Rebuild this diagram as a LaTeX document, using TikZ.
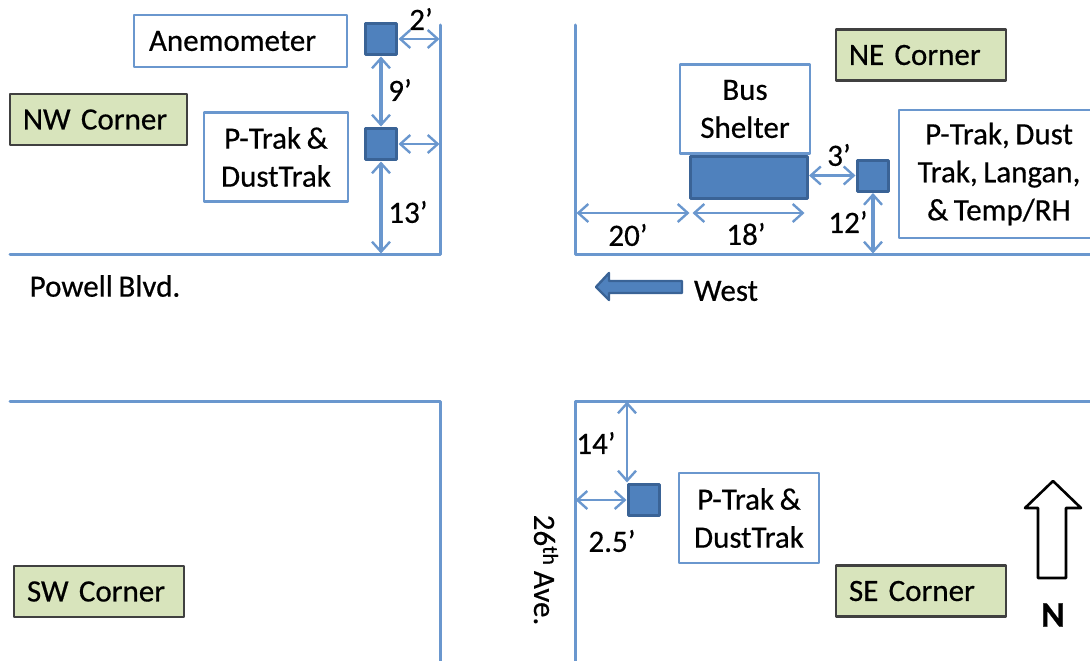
\documentclass[tikz,border=0pt]{standalone}
\usepackage{fontspec}
\setmainfont{Carlito}[FakeBold=0.5,WordSpace=0.8]
\usetikzlibrary{arrows.meta}
\definecolor{roadblue}{HTML}{6A97CE}
\definecolor{boxblue}{HTML}{6A97CE}
\definecolor{sensorblue}{HTML}{4F81BD}
\definecolor{sensoredge}{HTML}{3A6396}
\definecolor{cornergreen}{HTML}{D8E4BC}
\definecolor{corneredge}{HTML}{404040}
\tikzset{
  road/.style={draw=roadblue,line width=3pt},
  labelbox/.style={draw=boxblue,fill=white,line width=2.8pt,align=center,inner sep=0pt,font=\fontsize{31}{38}\selectfont},
  cornerbox/.style={draw=corneredge,fill=cornergreen,line width=2.8pt,align=left,minimum height=51pt,inner xsep=13pt,inner ysep=0pt,text width=144pt,font=\fontsize{31}{37}\selectfont},
  sensor/.style={draw=sensoredge,fill=sensorblue,line width=3pt,minimum size=31pt,inner sep=0pt},
  dimline/.style={draw=roadblue,line width=2.4pt,{Straight Barb[length=10pt,width=18pt,line width=2.4pt]}-{Straight Barb[length=10pt,width=18pt,line width=2.4pt]},shorten <=0.5pt,shorten >=0.5pt},
  dimthick/.style={dimline,line width=3.4pt},
  lab/.style={font=\fontsize{31}{37}\selectfont,inner sep=0pt}
}
\begin{document}
\begin{tikzpicture}[x=1pt,y=-1pt,line cap=round,line join=round]
  \useasboundingbox (0,0) rectangle (1090,661);
  % streets
  \coordinate (nwtop) at (440,25);
  \coordinate (nwcurb) at (440,254);
  \coordinate (nwend) at (10,254);
  \coordinate (netop) at (575,25);
  \coordinate (necurb) at (575,254);
  \coordinate (neend) at (1090,254);
  \coordinate (swstart) at (10,401);
  \coordinate (swcurb) at (440,401);
  \coordinate (swend) at (440,661);
  \coordinate (securb) at (575,401);
  \coordinate (seend) at (575,661);
  \coordinate (seright) at (1090,401);
  \draw[road] (nwtop) -- (nwcurb) -- (nwend);
  \draw[road] (netop) -- (necurb) -- (neend);
  \draw[road] (swstart) -- (swcurb) -- (swend);
  \draw[road] (seend) -- (securb) -- (seright);
  % NW corner
  \node[labelbox,minimum height=52pt,text width=183pt,inner xsep=15pt,align=left] (anemobox) at (240.5,41) {Anemometer};
  \node[labelbox,minimum width=144pt,minimum height=89pt] (nwtrak) at (276,157) {P-Trak \&\\DustTrak};
  \node[cornerbox,text width=151pt] (nwlabel) at (98.5,119.5) {NW Corner};
  \node[sensor] (anemo) at (381,39) {};
  \node[sensor] (nwsensor) at (381,144) {};
  \draw[dimline] (anemo.east) -- (anemo.east -| nwcurb);
  \draw[dimline] (nwsensor.east) -- (nwsensor.east -| nwcurb);
  \draw[dimthick] (anemo.south) -- (nwsensor.north);
  \draw[dimthick] (nwsensor.south) -- (nwsensor.south |- nwcurb);
  \node[lab] (twoft) at (421,19) {2’};
  \node[lab] (nineft) at (400,90) {9’};
  \node[lab] (thirteenft) at (408,212) {13’};
  \node[lab] (powell) at (105,286) {Powell Blvd.};
  % NE corner
  \node[cornerbox] (nelabel) at (921,55) {NE Corner};
  \node[labelbox,minimum width=130pt,minimum height=89pt] (shelterbox) at (745,109) {Bus\\Shelter};
  \node[sensor,minimum width=117pt,minimum height=42pt,anchor=north] (shelter) at (748.5,155) {};
  \node[sensor] (nesensor) at (873,175.5) {};
  \node[labelbox,minimum width=200pt,minimum height=128pt] (netrak) at (999,174) {P-Trak, Dust\\Trak, Langan,\\\& Temp/RH};
  \coordinate (twentyl) at (576,213);
  \coordinate (twentyr) at (690,213);
  \coordinate (eightl) at (692,213);
  \coordinate (eightr) at (805,213);
  \draw[dimline] (twentyl) -- (twentyr);
  \draw[dimline] (eightl) -- (eightr);
  \draw[dimline] (shelter.east |- nesensor.west) -- (nesensor.west);
  \draw[dimthick] (nesensor.south) -- (nesensor.south |- necurb);
  \node[lab] (threeft) at (839,155) {3’};
  \node[lab] (twelveft) at (848,222) {12’};
  \node[lab] (twentyft) at (628,235) {20’};
  \node[lab] (eighteenft) at (746,234) {18’};
  \draw[draw=sensoredge,fill=sensorblue,line width=2.4pt] (682,281) -- (609,281) -- (609,273) -- (596,287) -- (609,300) -- (609,293) -- (682,293) -- cycle;
  \node[lab] (west) at (726,291) {West};
  % SW corner
  \node[cornerbox] (swlabel) at (99,591.5) {SW Corner};
  % SE corner
  \node[sensor] (sesensor) at (644,500) {};
  \node[labelbox,minimum width=140pt,minimum height=90pt] (setrak) at (749,518) {P-Trak \&\\DustTrak};
  \node[cornerbox] (selabel) at (921,591) {SE Corner};
  \coordinate (seprobe) at (627,483);
  \draw[dimline] (sesensor.west) -- (sesensor.west -| securb);
  \draw[dimline] (seprobe) -- (seprobe |- securb);
  \node[lab] (fourteenft) at (596,443) {14’};
  \node[lab] (twofiveft) at (612,541) {2.5’};
  \node[lab,rotate=-90] (avenue) at (546,570) {26\textsuperscript{th} Ave.};
  \draw[draw=black,fill=white,line width=2.6pt] (1038,578) -- (1038,508) -- (1025,508) -- (1053,481) -- (1081,508) -- (1066,508) -- (1066,578) -- cycle;
  \node[lab,font=\fontsize{36}{40}\selectfont\bfseries] (north) at (1053,615) {N};
\end{tikzpicture}
\end{document}
